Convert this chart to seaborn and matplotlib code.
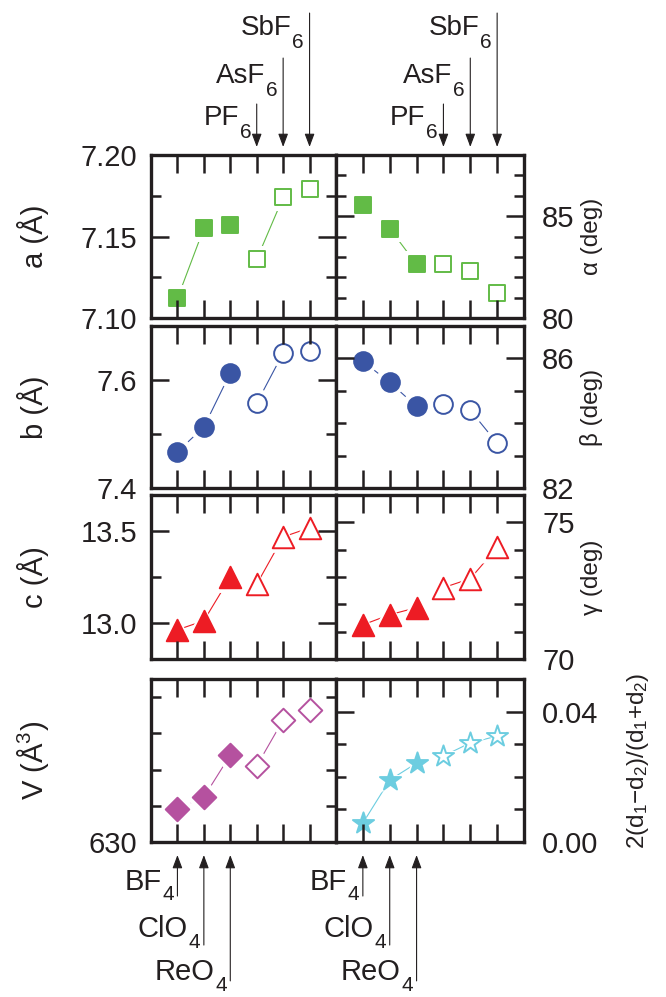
import numpy as np
import pandas as pd
import matplotlib
matplotlib.use("Agg")
import matplotlib.pyplot as plt
import seaborn as sns
from matplotlib.ticker import MultipleLocator, FixedLocator, FormatStrFormatter, NullLocator

# ---------------- data ----------------
anions = ["BF4", "ClO4", "ReO4", "PF6", "AsF6", "SbF6"]
anion_base = ["BF", "ClO", "ReO", "PF", "AsF", "SbF"]
anion_sub = ["4", "4", "4", "6", "6", "6"]
filled = [True, True, True, False, False, False]
xpos = [1, 2, 3, 4, 5, 6]

a_vals = [7.112, 7.155, 7.157, 7.136, 7.174, 7.179]
alpha_vals = [85.56, 84.39, 82.63, 82.65, 82.29, 81.22]
b_vals = [7.467, 7.513, 7.613, 7.557, 7.650, 7.654]
beta_vals = [85.91, 85.26, 84.52, 84.60, 84.40, 83.38]
c_vals = [12.96, 13.01, 13.25, 13.21, 13.47, 13.52]
gamma_vals = [71.25, 71.62, 71.88, 72.61, 72.94, 74.08]
V_vals = [648.2, 654.8, 678.0, 672.0, 697.4, 702.9]
delta_vals = [0.0058, 0.0190, 0.0242, 0.0264, 0.0304, 0.0325]

# ---------------- style ----------------
sns.set_style("white")
plt.rcParams['font.family'] = ['Liberation Sans', 'DejaVu Sans']
plt.rcParams['mathtext.fontset'] = 'custom'
plt.rcParams['mathtext.rm'] = 'Liberation Sans'
plt.rcParams['mathtext.it'] = 'Liberation Sans:italic'
plt.rcParams['mathtext.bf'] = 'Liberation Sans:bold'

INK = "#231f20"
GREEN = "#62bb46"
BLUE = "#3a55a4"
RED = "#ed1c24"
MAGENTA = "#b5519f"
CYAN = "#6ccde0"

fig = plt.figure(figsize=(6.66, 9.97), dpi=100)
W, H = 666.0, 997.0

cols = [(151, 336), (336, 524)]
rows = [(155, 318), (326, 488), (495, 659), (679, 842)]


def make_ax(r, c):
    x0, x1 = cols[c]
    y0, y1 = rows[r]
    return fig.add_axes([x0 / W, 1 - y1 / H, (x1 - x0) / W, (y1 - y0) / H])


def draw(ax, vals, color, marker, ms, halo=7.5):
    df = pd.DataFrame({"x": xpos, "y": vals, "filled": filled})
    for grp in (True, False):
        sub = df[df["filled"] == grp]
        sns.lineplot(data=sub, x="x", y="y", color=color, lw=0.8, ax=ax,
                     zorder=2.0, sort=False)
        sns.scatterplot(data=sub, x="x", y="y", marker=marker, s=(ms + halo) ** 2,
                        color="white", edgecolor="none", linewidth=0, ax=ax,
                        zorder=2.1)
        sns.scatterplot(data=sub, x="x", y="y", marker=marker, s=ms ** 2,
                        color=color, facecolor=color if grp else "white",
                        edgecolor=color, linewidth=1.4, ax=ax, zorder=2.2)


def style(ax, side, ylim, major, minor, fmt):
    ax.set_xlim(0, 7)
    ax.set_ylim(*ylim)
    ax.set_xlabel("")
    ax.set_ylabel("")
    ax.set_axisbelow(False)
    for sp in ax.spines.values():
        sp.set_linewidth(2.4)
        sp.set_color(INK)
        sp.set_zorder(3)
    ax.xaxis.set_major_locator(FixedLocator(xpos))
    ax.xaxis.set_minor_locator(NullLocator())
    ax.yaxis.set_major_locator(major)
    ax.yaxis.set_minor_locator(minor)
    ax.yaxis.set_major_formatter(FormatStrFormatter(fmt))
    ax.tick_params(axis='both', which='both', direction='in', top=True, bottom=True,
                   left=True, right=True, labelbottom=False, labeltop=False,
                   width=1.8, color=INK, labelsize=21, labelcolor=INK)
    ax.tick_params(which='major', length=13)
    ax.tick_params(which='minor', length=7)
    if side == 'left':
        ax.tick_params(axis='y', labelleft=True, labelright=False, pad=10)
    else:
        ax.tick_params(axis='y', labelleft=False, labelright=True, pad=13)


panels = [
    # (row, col, vals, color, marker, ms, ylim, major, minor, fmt, label)
    (0, 0, a_vals, GREEN, 's', 12, (7.10, 7.20), MultipleLocator(0.05), MultipleLocator(0.025), "%.2f", "a (Å)"),
    (0, 1, alpha_vals, GREEN, 's', 12, (80, 88), MultipleLocator(5), MultipleLocator(1), "%d", "α (deg)"),
    (1, 0, b_vals, BLUE, 'o', 13.5, (7.4, 7.7), FixedLocator([7.4, 7.6]), MultipleLocator(0.1), "%.1f", "b (Å)"),
    (1, 1, beta_vals, BLUE, 'o', 13.5, (82, 87), FixedLocator([82, 86]), MultipleLocator(1), "%d", "β (deg)"),
    (2, 0, c_vals, RED, '^', 15.5, (12.8, 13.7), FixedLocator([13.0, 13.5]), MultipleLocator(0.25), "%.1f", "c (Å)"),
    (2, 1, gamma_vals, RED, '^', 15.5, (70, 76), MultipleLocator(5), MultipleLocator(1), "%d", "γ (deg)"),
    (3, 0, V_vals, MAGENTA, 'D', 12, (630, 720), FixedLocator([630]), FixedLocator([650, 670, 690, 710]), "%d", r"V ($\mathrm{Å}^3$)"),
    (3, 1, delta_vals, CYAN, '*', 16, (0, 0.05), FixedLocator([0.0, 0.04]), MultipleLocator(0.01), "%.2f",
     r"$\mathrm{2(d}_1\mathrm{{-}d}_2\mathrm{)/(d}_1\mathrm{{+}d}_2\mathrm{)}$"),
]

axes = {}
for (r, c, vals, color, marker, ms, ylim, major, minor, fmt, label) in panels:
    ax = make_ax(r, c)
    axes[(r, c)] = ax
    draw(ax, vals, color, marker, ms)
    style(ax, 'left' if c == 0 else 'right', ylim, major, minor, fmt)
    if c == 0:
        ax.text(-0.64, 0.5, label, transform=ax.transAxes, rotation=90,
                ha='center', va='center', fontsize=21, color=INK)
    else:
        xl = 1.606 if r == 3 else 1.36
        ax.text(xl, 0.5, label, transform=ax.transAxes, rotation=90,
                ha='center', va='center', fontsize=17.5, color=INK)

# ---------------- anion arrows ----------------
ARROW = dict(arrowstyle="-|>,head_length=0.8,head_width=0.3", mutation_scale=10,
             lw=0.8, color=INK, shrinkA=0)

top_tails = [36.7, 69.8, 102.2]
top_text = [21.6, 51.8, 86.4]
bot_tails = [38.9, 74.2, 100.0]
bot_text = [34.6, 68.5, 99.5]

SUB_FS = 15
SUB_W = 0.556 * SUB_FS


def ion_label(ax, trans, xi, y_ax, base, sub, dx, dy, fs, drop):
    ax.annotate(sub, xy=(xi, y_ax), xycoords=trans, xytext=(dx, dy - drop),
                textcoords='offset points', ha='right', va='baseline',
                fontsize=SUB_FS, color=INK, annotation_clip=False)
    ax.annotate(base, xy=(xi, y_ax), xycoords=trans, xytext=(dx - SUB_W - 0.6, dy),
                textcoords='offset points', ha='right', va='baseline',
                fontsize=fs, color=INK, annotation_clip=False)


for c in (0, 1):
    ax = axes[(0, c)]
    trans = ax.get_xaxis_transform()
    for k, i in enumerate([3, 4, 5]):
        ax.annotate("", xy=(xpos[i], 1.0), xycoords=trans, xytext=(0, top_tails[k]),
                    textcoords='offset points', arrowprops=dict(ARROW, shrinkB=5.8),
                    annotation_clip=False)
        ion_label(ax, trans, xpos[i], 1.0, anion_base[i], anion_sub[i],
                  -4.0, top_text[k], 20, 9.0)
    ax = axes[(3, c)]
    trans = ax.get_xaxis_transform()
    for k, i in enumerate([0, 1, 2]):
        ax.annotate("", xy=(xpos[i], 0.0), xycoords=trans, xytext=(0, -bot_tails[k]),
                    textcoords='offset points', arrowprops=dict(ARROW, shrinkB=9.4),
                    annotation_clip=False)
        ion_label(ax, trans, xpos[i], 0.0, anion_base[i], anion_sub[i],
                  -2.5, -bot_text[k], 21, 7.5)

fig.savefig("out.png", dpi=100)
